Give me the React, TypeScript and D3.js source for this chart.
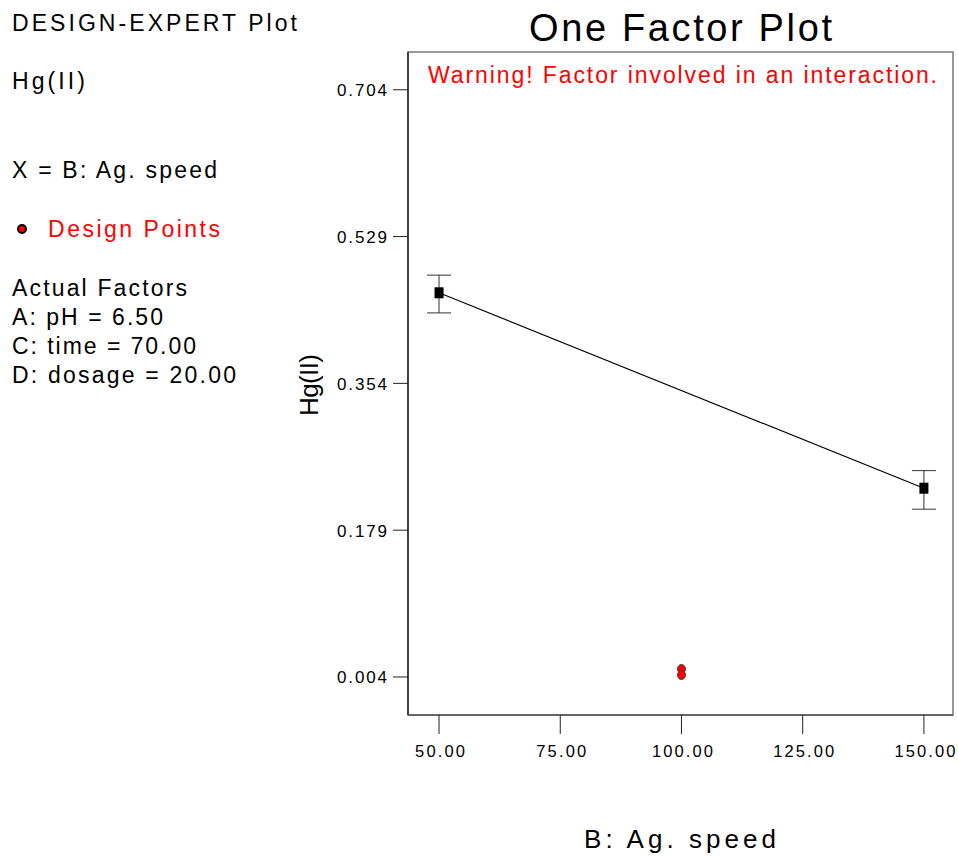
import React from "react";
import * as d3 from "d3";

const yTicks = [0.004, 0.179, 0.354, 0.529, 0.704];
const xTicks = [50, 75, 100, 125, 150];
const factorLevels = [50, 150];
const predicted = [0.462, 0.229];
const lowerCI = [0.438, 0.204];
const upperCI = [0.483, 0.25];
const designX = [100, 100];
const designY = [0.0135, 0.0064];
const leftTexts = ["A: pH = 6.50", "C: time = 70.00", "D: dosage = 20.00"];
const leftWidths = [151, 184, 224];

export default function App() {
  const W = 958, H = 857;
  const L = 408, R = 953, T = 52, B = 715;
  const x = d3.scaleLinear().domain([43.6, 156]).range([L, R]);
  const y = d3.scaleLinear().domain([-0.0413, 0.749]).range([B, T]);
  const line = d3.line<number>().x((_, i) => x(factorLevels[i])).y((d) => y(d));
  const font = "Liberation Sans, Arial, sans-serif";
  const tickW = (s: string) => (s.length === 5 ? 50 : 61);
  const fs = 23;
  return (
    <svg width={W} height={H} style={{ position: "absolute", left: 0, top: 0 }} fontFamily={font}>
      <rect x={0} y={0} width={W} height={H} fill="white" />
      <text x={12} y={31} fontSize={fs} textLength={285} lengthAdjust="spacing">DESIGN-EXPERT Plot</text>
      <text x={12} y={89} fontSize={fs} textLength={73} lengthAdjust="spacing">Hg(II)</text>
      <text x={12} y={178} fontSize={fs} textLength={205} lengthAdjust="spacing">X = B: Ag. speed</text>
      <circle cx={22} cy={229} r={4} fill="red" stroke="black" strokeWidth={2} />
      <text x={48} y={237} fontSize={fs} fill="red" textLength={172} lengthAdjust="spacing">Design Points</text>
      <text x={12} y={296} fontSize={fs} textLength={175} lengthAdjust="spacing">Actual Factors</text>
      {leftTexts.map((t, i) => (
        <text key={t} x={12} y={325 + i * 29} fontSize={fs} textLength={leftWidths[i]} lengthAdjust="spacing">{t}</text>
      ))}
      <text x={680.5} y={41} fontSize={38} textAnchor="middle" textLength={303} lengthAdjust="spacing">One Factor Plot</text>
      <rect x={L} y={T} width={R - L} height={B - T} fill="none" stroke="#777" strokeWidth={1.5} />
      <line x1={L} x2={L} y1={T} y2={B} stroke="#222" strokeWidth={1.5} />
      <line x1={L} x2={R} y1={B} y2={B} stroke="#555" strokeWidth={1.5} />
      <text x={682.5} y={83} fontSize={23} fill="red" textAnchor="middle" textLength={509} lengthAdjust="spacing">Warning! Factor involved in an interaction.</text>
      {yTicks.map((t) => (
        <g key={t}>
          <line x1={L - 15} x2={L} y1={y(t)} y2={y(t)} stroke="#222" />
          <text x={387} y={y(t) + 6.5} fontSize={17} textAnchor="end" textLength={50} lengthAdjust="spacing">{t.toFixed(3)}</text>
        </g>
      ))}
      {xTicks.map((t) => (
        <g key={t}>
          <line x1={x(t)} x2={x(t)} y1={B} y2={B + 19} stroke="#222" />
          <text x={x(t) + 1} y={757} fontSize={16.5} textAnchor="middle" textLength={tickW(t.toFixed(2))} lengthAdjust="spacing">{t.toFixed(2)}</text>
        </g>
      ))}
      <text transform={`translate(318,385) rotate(-90)`} fontSize={26} textAnchor="middle" textLength={62} lengthAdjust="spacing">Hg(II)</text>
      <text x={680} y={848} fontSize={26} textAnchor="middle" textLength={192} lengthAdjust="spacing">B: Ag. speed</text>
      <path d={line(predicted) || ""} fill="none" stroke="black" strokeWidth={1.2} />
      {factorLevels.map((lv, i) => (
        <g key={lv}>
          <line x1={x(lv)} x2={x(lv)} y1={y(lowerCI[i])} y2={y(upperCI[i])} stroke="#333" />
          <line x1={x(lv) - 12} x2={x(lv) + 12} y1={y(lowerCI[i])} y2={y(lowerCI[i])} stroke="#333" />
          <line x1={x(lv) - 12} x2={x(lv) + 12} y1={y(upperCI[i])} y2={y(upperCI[i])} stroke="#333" />
          <rect x={x(lv) - 4.5} y={y(predicted[i]) - 5.5} width={9} height={11} fill="black" />
        </g>
      ))}
      {designX.map((dx, i) => (
        <ellipse key={i} cx={x(dx)} cy={y(designY[i])} rx={4} ry={4.5} fill="red" stroke="#444" strokeWidth={1} />
      ))}
    </svg>
  );
}
